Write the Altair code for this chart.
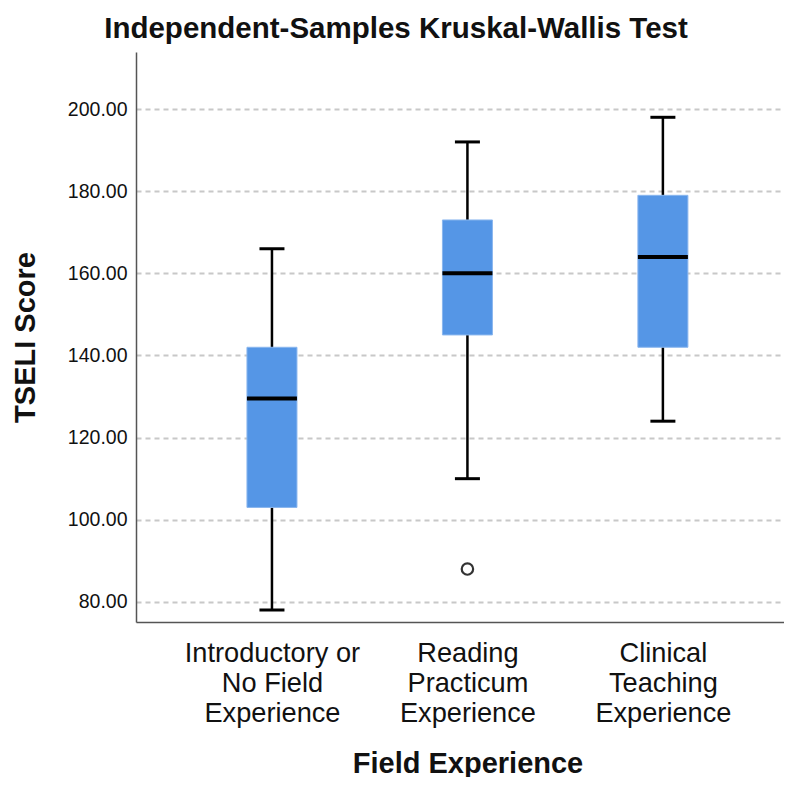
import altair as alt
import pandas as pd

# ---- data ----
categories = ["Introductory or No Field Experience",
              "Reading Practicum Experience",
              "Clinical Teaching Experience"]
label_lines = [["Introductory or", "No Field", "Experience"],
               ["Reading", "Practicum", "Experience"],
               ["Clinical", "Teaching", "Experience"]]
whisker_low = [78.0, 110.0, 124.0]
q1 = [103.0, 145.0, 142.0]
median = [129.5, 160.0, 164.0]
q3 = [142.0, 173.0, 179.0]
whisker_high = [166.0, 192.0, 198.0]
outlier_group = [1]
outlier_value = [88.0]
y_ticks = [80, 100, 120, 140, 160, 180, 200]

FONT = "Liberation Sans"

box = pd.DataFrame({
    "idx": list(range(len(categories))),
    "category": categories,
    "lo": whisker_low, "q1": q1, "med": median, "q3": q3, "hi": whisker_high,
})
out = pd.DataFrame({"idx": outlier_group, "value": outlier_value})

label_expr = " : ".join(
    f"datum.value == {i} ? {lines!r}" for i, lines in enumerate(label_lines[:-1])
) + f" : {label_lines[-1]!r}"

x_scale = alt.Scale(domain=[-0.67, 2.594], nice=False, zero=False)
y_scale = alt.Scale(domain=[75.1, 213.9], nice=False, zero=False)

x_axis = alt.Axis(
    values=list(range(len(categories))), labelExpr=label_expr, grid=False,
    ticks=False, tickSize=0, labelFont=FONT, labelFontSize=27.2,
    labelLineHeight=30, labelColor="#111", labelAlign="center",
    labelBaseline="alphabetic", labelPadding=39, labelFlush=False,
    labelOverlap=False, labelBound=False,
    domainColor="#555", domainWidth=1.5,
    title="Field Experience", titleFont=FONT, titleFontSize=29,
    titleFontWeight="bold", titleColor="#111", titleBaseline="alphabetic",
    titleY=150, titleX=331.5, titleAlign="center",
)
y_axis = alt.Axis(
    values=y_ticks, format=".2f", grid=True, gridColor="#c8c8c8",
    gridDash=[5, 4], gridWidth=2, ticks=False, tickSize=0,
    labelFont=FONT, labelFontSize=19.5, labelColor="#111", labelPadding=9,
    domainColor="#555", domainWidth=1.5,
    title="TSELI Score", titleFont=FONT, titleFontSize=29,
    titleFontWeight="bold", titleColor="#111", titleAngle=270,
    titleAlign="center", titleBaseline="alphabetic", titleX=-102, titleY=285,
)

base = alt.Chart(box)

whisker = base.mark_rule(color="black", strokeWidth=2.5, opacity=1).encode(
    x=alt.X("idx:Q", scale=x_scale, axis=x_axis),
    y=alt.Y("lo:Q", scale=y_scale, axis=y_axis),
    y2="hi:Q",
)
caps_hi = base.mark_tick(color="black", orient="horizontal", size=25,
                         thickness=3, opacity=1).encode(
    x=alt.X("idx:Q", scale=x_scale), y=alt.Y("hi:Q", scale=y_scale))
caps_lo = base.mark_tick(color="black", orient="horizontal", size=25,
                         thickness=3, opacity=1).encode(
    x=alt.X("idx:Q", scale=x_scale), y=alt.Y("lo:Q", scale=y_scale))
boxes = base.mark_bar(color="#5596e6", size=50, stroke="#8ab6ee",
                      strokeWidth=1, opacity=1).encode(
    x=alt.X("idx:Q", scale=x_scale), y=alt.Y("q1:Q", scale=y_scale),
    y2="q3:Q",
)
med = base.mark_tick(color="black", orient="horizontal", size=50,
                     thickness=4, opacity=1).encode(
    x=alt.X("idx:Q", scale=x_scale), y=alt.Y("med:Q", scale=y_scale))
outl = alt.Chart(out).mark_point(shape="circle", filled=False, size=130,
                                 color="#333", strokeWidth=2.2,
                                 opacity=1).encode(
    x=alt.X("idx:Q", scale=x_scale), y=alt.Y("value:Q", scale=y_scale))

chart = alt.layer(whisker, caps_hi, caps_lo, boxes, med, outl).properties(
    width=648, height=570,
    background="white",
    autosize=alt.AutoSizeParams(type="none"),
    padding={"left": 128, "top": 44, "right": 0, "bottom": 155},
    title=alt.TitleParams(
        "Independent-Samples Kruskal-Wallis Test", font=FONT, fontSize=29.5,
        fontWeight="bold", color="#111", anchor="middle", dx=-64, dy=29,
        baseline="alphabetic", offset=14,
    ),
).configure_view(stroke=None)

chart.save("out.html", embed_options={"renderer": "svg", "actions": False})
